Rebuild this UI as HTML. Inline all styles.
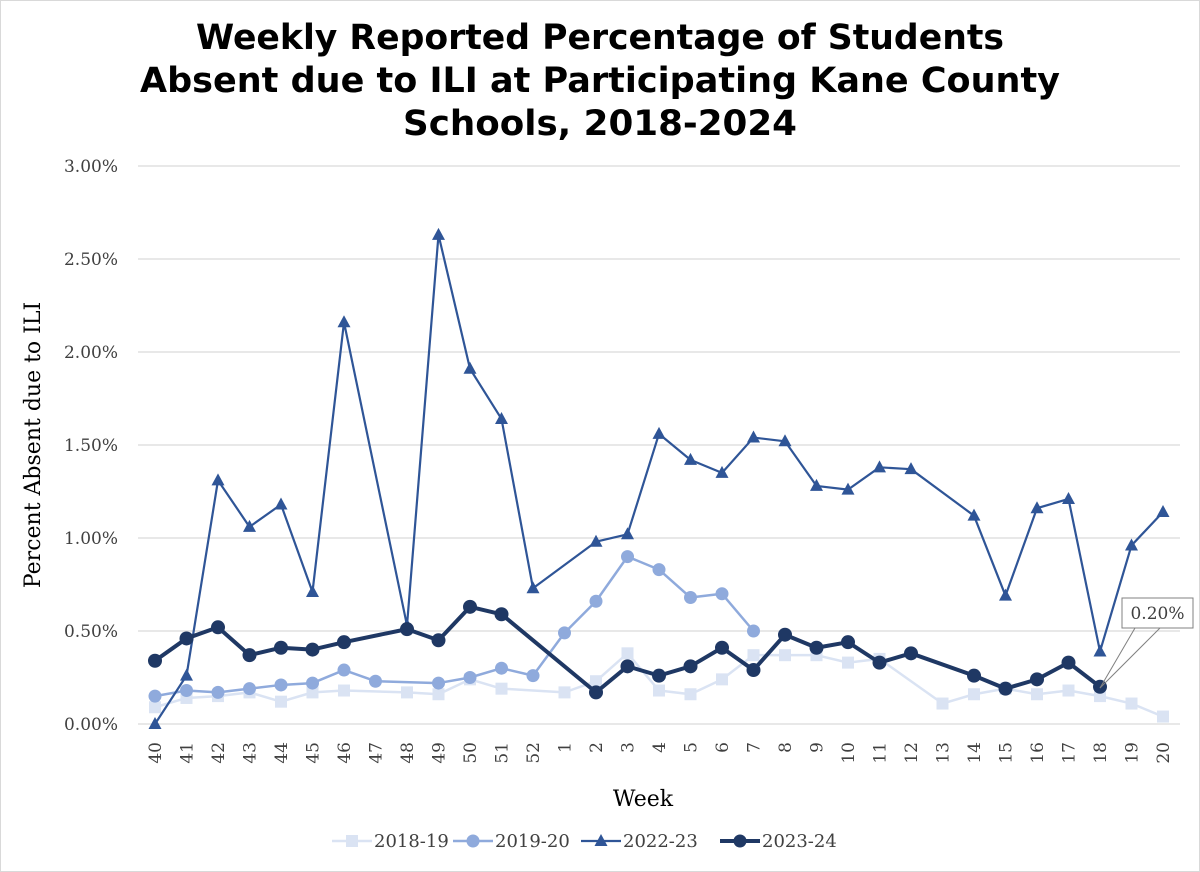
<!DOCTYPE html>
<html><head><meta charset="utf-8"><style>
body{margin:0;background:#fff}
svg{display:block}
</style></head><body>
<svg id="chart" width="1200" height="872" viewBox="0 0 1200 872" xmlns="http://www.w3.org/2000/svg">
<rect x="0.5" y="0.5" width="1199" height="871" fill="#fff" stroke="#d9d9d9"/>
<g font-family="'DejaVu Sans', 'Liberation Sans', sans-serif" font-weight="bold" font-size="35" text-anchor="middle" fill="#000">
<text x="600" y="49" textLength="808" lengthAdjust="spacingAndGlyphs">Weekly Reported Percentage of Students</text>
<text x="600" y="92" textLength="920" lengthAdjust="spacingAndGlyphs">Absent due to ILI at Participating Kane County</text>
<text x="600" y="135" textLength="394" lengthAdjust="spacingAndGlyphs">Schools, 2018-2024</text>
</g>
<g id="grid"></g>
<g id="yticks" font-family="'DejaVu Serif','Liberation Serif',serif" font-size="17" fill="#404040" text-anchor="end"></g>
<g id="xticks" font-family="'DejaVu Serif','Liberation Serif',serif" font-size="17" fill="#404040"></g>
<text x="40" y="445" transform="rotate(-90 40 445)" text-anchor="middle" font-family="'DejaVu Serif','Liberation Serif',serif" font-size="22" fill="#000">Percent Absent due to ILI</text>
<text x="643" y="806" text-anchor="middle" font-family="'DejaVu Serif','Liberation Serif',serif" font-size="22" fill="#000">Week</text>
<g id="series"></g>
<g id="callout">
<line x1="1100" y1="688" x2="1135" y2="628" stroke="#808080" stroke-width="1"/>
<line x1="1100" y1="688" x2="1160" y2="628" stroke="#808080" stroke-width="1"/>
<rect x="1122" y="598" width="71" height="30" fill="#fff" stroke="#808080"/>
<text x="1157.5" y="619" text-anchor="middle" font-family="'DejaVu Serif','Liberation Serif',serif" font-size="17" fill="#404040">0.20%</text>
</g>
<g id="legend" font-family="'DejaVu Serif','Liberation Serif',serif" font-size="18" fill="#404040"></g>
</svg>
<script>
const categories=["40","41","42","43","44","45","46","47","48","49","50","51","52","1","2","3","4","5","6","7","8","9","10","11","12","13","14","15","16","17","18","19","20"];
const s2018=[0.09,0.14,0.15,0.17,0.12,0.17,0.18,null,0.17,0.16,0.24,0.19,null,0.17,0.23,0.38,0.18,0.16,0.24,0.37,0.37,0.37,0.33,0.35,null,0.11,0.16,0.19,0.16,0.18,0.15,0.11,0.04];
const s2019=[0.15,0.18,0.17,0.19,0.21,0.22,0.29,0.23,null,0.22,0.25,0.30,0.26,0.49,0.66,0.90,0.83,0.68,0.70,0.50,null,null,null,null,null,null,null,null,null,null,null,null,null];
const s2022=[0.00,0.26,1.31,1.06,1.18,0.71,2.16,null,0.53,2.63,1.91,1.64,0.73,null,0.98,1.02,1.56,1.42,1.35,1.54,1.52,1.28,1.26,1.38,1.37,null,1.12,0.69,1.16,1.21,0.39,0.96,1.14];
const s2023=[0.34,0.46,0.52,0.37,0.41,0.40,0.44,null,0.51,0.45,0.63,0.59,null,null,0.17,0.31,0.26,0.31,0.41,0.29,0.48,0.41,0.44,0.33,0.38,null,0.26,0.19,0.24,0.33,0.20,null,null];
const yTicks=[0,0.5,1,1.5,2,2.5,3];
const yTickLabels=["0.00%","0.50%","1.00%","1.50%","2.00%","2.50%","3.00%"];
const seriesNames=["2018-19","2019-20","2022-23","2023-24"];

const NS="http://www.w3.org/2000/svg";
const X0=155,X1=1163,Y0=724,Y3=166;
function xs(i){return X0+(X1-X0)*i/(categories.length-1);}
function ys(v){return Y0-(Y0-Y3)*v/3;}
function mk(tag,attrs,parent){const e=document.createElementNS(NS,tag);for(const k in attrs)e.setAttribute(k,attrs[k]);parent.appendChild(e);return e;}

const grid=document.getElementById('grid');
yTicks.forEach((t,i)=>{
  const l=mk('line',{x1:138,x2:1180,y1:ys(t),y2:ys(t),stroke:'#d9d9d9','stroke-width':1.3},grid);
  
  
  const tx=mk('text',{x:118,y:ys(t)+6},document.getElementById('yticks'));
  tx.textContent=yTickLabels[i];
  
  
});
const xt=document.getElementById('xticks');
categories.forEach((c,i)=>{
  const x=xs(i)+6,y=742;
  const tx=mk('text',{x:x,y:y,transform:`rotate(-90 ${x} ${y})`,'text-anchor':'end'},xt);
  tx.textContent=c;
  
  
});

const styles=[
 {data:s2018,color:'#dae3f3',w:2.5,m:'square'},
 {data:s2019,color:'#8faadc',w:2.5,m:'circle'},
 {data:s2022,color:'#2f5597',w:2.2,m:'triangle'},
 {data:s2023,color:'#1f3864',w:4,m:'circle'}
];
function marker(type,x,y,color,parent,r){
  let e;
  if(type==='square')e=mk('rect',{x:x-6,y:y-6,width:12,height:12,fill:color},parent);
  else if(type==='circle')e=mk('circle',{cx:x,cy:y,r:r||6.5,fill:color},parent);
  else e=mk('polygon',{points:`${x},${y-7} ${x+6.5},${y+5} ${x-6.5},${y+5}`,fill:color},parent);
  return e;
}
const sg=document.getElementById('series');
styles.forEach((s,si)=>{
  const g=mk('g',{},sg);
  
  
  const pts=[];
  s.data.forEach((v,i)=>{if(v!==null)pts.push([xs(i),ys(v)]);});
  const p=mk('polyline',{points:pts.map(p=>p.join(',')).join(' '),fill:'none',stroke:s.color,'stroke-width':s.w,'stroke-linejoin':'round'},g);
  
  
  pts.forEach(pt=>{
    const m=marker(s.m,pt[0],pt[1],s.color,g,si===3?7:6.5);
    
    
  });
});
const lg=document.getElementById('legend');
const lx=[352,473,601,740];
styles.forEach((s,si)=>{
  const x=lx[si],y=841;
  const g=mk('g',{},lg);
  
  
  mk('line',{x1:x-20,x2:x+20,y1:y,y2:y,stroke:s.color,'stroke-width':s.w},g);
  marker(s.m,x,y,s.color,g,6.5);
  const t=mk('text',{x:x+22,y:y+6},g);
  t.textContent=seriesNames[si];
});
</script>
</body></html>
